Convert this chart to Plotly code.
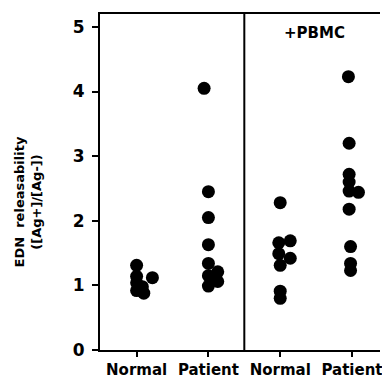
import plotly.graph_objects as go

categories = ["Normal", "Patient", "Normal", "Patient"]
y_ticks = [0, 1, 2, 3, 4, 5]

# values: (value, small horizontal offset in category units)
normal_val = [1.31, 1.14, 1.12, 1.04, 0.98, 0.92, 0.88]
normal_off = [0.0, 0.0, 0.22, 0.0, 0.08, 0.0, 0.1]

patient_val = [4.05, 2.45, 2.05, 1.63, 1.34, 1.21, 1.15, 1.06, 0.99]
patient_off = [-0.06, 0.0, 0.0, 0.0, 0.0, 0.13, 0.0, 0.13, 0.0]

pbmc_normal_val = [2.28, 1.69, 1.66, 1.49, 1.42, 1.31, 0.91, 0.80]
pbmc_normal_off = [0.0, 0.14, -0.02, -0.02, 0.14, 0.0, 0.0, 0.0]

pbmc_patient_val = [4.23, 3.20, 2.72, 2.60, 2.46, 2.44, 2.18, 1.60, 1.34, 1.23]
pbmc_patient_off = [-0.05, -0.04, -0.04, -0.04, -0.04, 0.09, -0.04, -0.02, -0.02, -0.02]

groups = [
    (0, normal_val, normal_off),
    (1, patient_val, patient_off),
    (2, pbmc_normal_val, pbmc_normal_off),
    (3, pbmc_patient_val, pbmc_patient_off),
]

FONT = "DejaVu Sans"

fig = go.Figure()
for pos, vals, offs in groups:
    fig.add_trace(go.Scatter(
        x=[pos + o for o in offs], y=vals, mode="markers",
        marker=dict(color="black", size=13, line=dict(width=0)),
        showlegend=False, hoverinfo="skip"))

fig.update_layout(
    width=382, height=379,
    margin=dict(l=100, r=0, t=14, b=27),
    paper_bgcolor="white", plot_bgcolor="white",
    font=dict(family=FONT, color="black"),
    xaxis=dict(
        range=[-0.51, 3.39], tickmode="array", tickvals=[0, 1, 2, 3],
        ticktext=[f"<b>{c}</b>" for c in categories],
        showline=True, linecolor="black", linewidth=2, mirror=True,
        ticks="outside", ticklen=5, tickwidth=2, tickcolor="black",
        showgrid=False, zeroline=False, ticklabeloverflow="allow",
        tickfont=dict(size=15, family=FONT, color="black"),
    ),
    yaxis=dict(
        range=[0, 5.2], tickmode="array", tickvals=y_ticks,
        ticktext=[f"<b>{t}</b>" for t in y_ticks],
        showline=True, linecolor="black", linewidth=2,
        ticks="outside", ticklen=6, tickwidth=2, tickcolor="black",
        showgrid=False, zeroline=False,
        tickfont=dict(size=17, family=FONT, color="black"),
        ticklabelstandoff=4,
    ),
    shapes=[dict(type="line", xref="x", yref="paper", x0=1.5, x1=1.5, y0=0, y1=1,
                 line=dict(color="black", width=2))],
    annotations=[
        dict(text="<b>+PBMC</b>", xref="paper", yref="paper",
             x=(316 - 100) / 282, y=(379 - 27 - 33) / 338, xanchor="center", yanchor="middle",
             showarrow=False, font=dict(size=15, family=FONT, color="black")),
        dict(text="<b>EDN  releasability</b><br><b>([Ag+]/[Ag-])</b>", xref="paper", yref="paper",
             x=(27 - 100) / 282, y=(352 - 203) / 338, xanchor="center", yanchor="middle",
             textangle=-90, showarrow=False,
             font=dict(size=13, family=FONT, color="black")),
    ],
)

fig.write_html("out.html")
